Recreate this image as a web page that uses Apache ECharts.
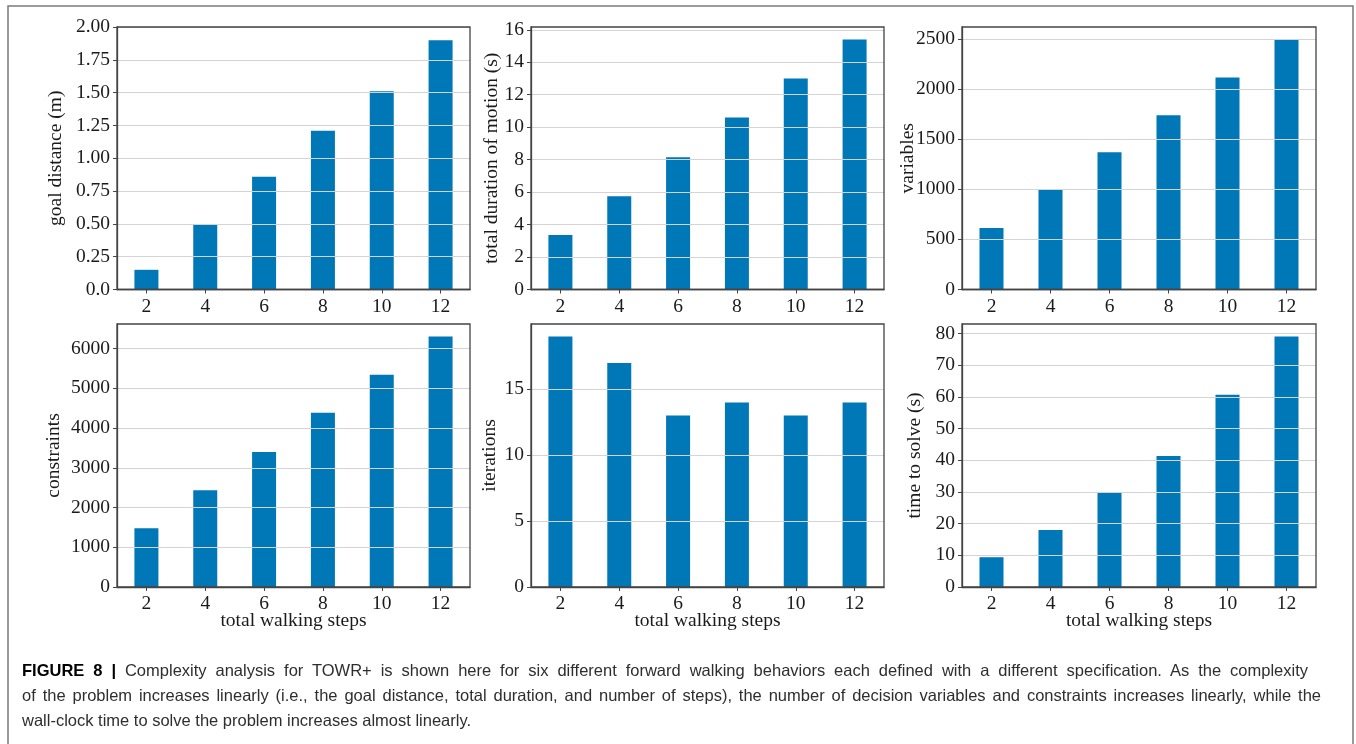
<!DOCTYPE html>
<html>
<head>
<meta charset="utf-8">
<title>Complexity analysis for TOWR+</title>
<script src="https://cdn.jsdelivr.net/npm/echarts@6/dist/echarts.min.js"></script>
<style>
  html, body { margin: 0; padding: 0; background: #ffffff; }
  #wrap { position: relative; width: 1356px; height: 744px; overflow: hidden; }
  #chart { position: absolute; left: 0; top: 0; width: 1356px; height: 744px; }
  #caption {
    position: absolute; left: 22px; top: 658px;
    font-family: "Liberation Sans", Arial, sans-serif; font-size: 16.5px;
    line-height: 25px; color: #2e2e2e;
  }
  #caption .line { white-space: nowrap; }
  #caption .just { white-space: normal; text-align: justify; text-align-last: justify; }
  #caption b { color: #000000; }
</style>
</head>
<body>
<div id="wrap">
  <div id="chart"></div>
  <div id="caption"></div>
</div>
<script>
// Walking behaviours: number of steps on the x axis of every panel
const steps = ['2', '4', '6', '8', '10', '12'];

// Per-behaviour measurements
const goalDistance   = [0.15, 0.5, 0.86, 1.21, 1.51, 1.9];
const totalDuration  = [3.35, 5.75, 8.15, 10.6, 13.0, 15.4];
const variables      = [613, 991, 1369, 1737, 2115, 2493];
const constraints    = [1476, 2436, 3397, 4382, 5342, 6303];
const iterations     = [19, 17, 13, 14, 13, 14];
const timeToSolve    = [9.4, 18, 29.9, 41.4, 60.7, 79.1];

// Tick labels of the goal-distance axis (first tick printed as "0.0")
const goalTickLabels = ['0.0', '0.25', '0.50', '0.75', '1.00', '1.25', '1.50', '1.75', '2.00'];

const captionHead = 'FIGURE 8 |';
const captionLines = [
  'Complexity analysis for TOWR+ is shown here for six different forward walking behaviors each defined with a different specification. As the complexity',
  'of the problem increases linearly (i.e., the goal distance, total duration, and number of steps), the number of decision variables and constraints increases linearly, while the',
  'wall-clock time to solve the problem increases almost linearly.'
];

const SERIF = '"Liberation Serif", "DejaVu Serif", serif';
const FS = 19.5;
const BAR = '#0077b6';
const INK = '#1a1a1a';
const FRAME = '#444444';

// Panel layout (pixels) and axis settings
const panels = [
  { values: goalDistance,  name: 'goal distance (m)',            max: 2.0,  interval: 0.25, nameGap: 51, box: [117, 27, 353, 262.5], ticks: goalTickLabels },
  { values: totalDuration, name: 'total duration of motion (s)', max: null, interval: 2,    nameGap: 29, box: [531, 27, 353, 262.5] },
  { values: variables,     name: 'variables',                    max: null, interval: 500,  nameGap: 44, box: [962, 27, 354, 262.5] },
  { values: constraints,   name: 'constraints',                  max: null, interval: 1000, nameGap: 53, box: [117, 324, 353, 263], xName: 'total walking steps' },
  { values: iterations,    name: 'iterations',                   max: null, interval: 5,    nameGap: 31, box: [531, 324, 353, 263], xName: 'total walking steps' },
  { values: timeToSolve,   name: 'time to solve (s)',            max: null, interval: 10,   nameGap: 37, box: [962, 324, 354, 263], xName: 'total walking steps' }
];

const grids = [], xAxes = [], yAxes = [], series = [], frames = [];

panels.forEach((p, i) => {
  const [left, top, width, height] = p.box;
  grids.push({ left, top, width, height, containLabel: false, outerBoundsMode: 'none' });

  xAxes.push({
    gridIndex: i,
    type: 'category',
    data: steps,
    z: 4,
    axisLine: { show: true, lineStyle: { color: FRAME, width: 1.3 } },
    axisTick: { show: true, alignWithLabel: true, length: 4, lineStyle: { color: FRAME, width: 1 } },
    axisLabel: { margin: 7, fontFamily: SERIF, fontSize: FS, color: INK },
    splitLine: { show: false },
    name: p.xName || '',
    nameLocation: 'middle',
    nameGap: 24,
    nameMoveOverlap: false,
    nameTextStyle: { fontFamily: SERIF, fontSize: FS, color: INK }
  });

  // matplotlib-style 5% headroom above the tallest bar
  const yMax = p.max !== null ? p.max : Math.max(...p.values) * 1.05;
  const tickValues = [];
  for (let k = 0; k * p.interval <= yMax + 1e-9; k++) tickValues.push(+(k * p.interval).toFixed(6));

  yAxes.push({
    gridIndex: i,
    type: 'value',
    min: 0,
    max: yMax,
    interval: p.interval,
    z: 3,
    axisLine: { show: true, lineStyle: { color: FRAME, width: 1.3 } },
    axisTick: { show: true, length: 4, customValues: tickValues, lineStyle: { color: FRAME, width: 1 } },
    splitLine: { show: true, lineStyle: { color: '#d4d4d4', width: 1 } },
    axisLabel: {
      margin: 7, fontFamily: SERIF, fontSize: FS, color: INK,
      customValues: tickValues,
      formatter: p.ticks ? (v) => p.ticks[Math.round(v / p.interval)] : (v) => String(v)
    },
    name: p.name,
    nameLocation: 'middle',
    nameGap: p.nameGap,
    nameMoveOverlap: false,
    nameTextStyle: { fontFamily: SERIF, fontSize: FS, color: INK }
  });

  series.push({
    type: 'bar',
    xAxisIndex: i,
    yAxisIndex: i,
    data: p.values,
    barWidth: 24,
    itemStyle: { color: BAR },
    z: 2,
    silent: true
  });

  // axes frame drawn above bars and gridlines
  frames.push({
    type: 'rect',
    z: 100,
    silent: true,
    shape: { x: left, y: top, width, height },
    style: { fill: null, stroke: FRAME, lineWidth: 1.3 }
  });
});

// Outer figure border
const graphics = frames.concat([{
  type: 'rect',
  z: 100,
  silent: true,
  shape: { x: 8, y: 6, width: 1345, height: 760 },
  style: { fill: null, stroke: '#7a7a7a', lineWidth: 1.5 }
}]);

const chart = echarts.init(document.getElementById('chart'), null, { renderer: 'canvas' });
chart.setOption({
  backgroundColor: '#ffffff',
  animation: false,
  grid: grids,
  xAxis: xAxes,
  yAxis: yAxes,
  series: series,
  graphic: graphics
});

// Caption below the panels: first two lines run to the full text width
const cap = document.getElementById('caption');
const lineWidths = [1286, 1299, null];
captionLines.forEach((txt, i) => {
  const d = document.createElement('div');
  d.className = lineWidths[i] ? 'line just' : 'line';
  if (lineWidths[i]) d.style.width = lineWidths[i] + 'px';
  if (i === 0) {
    const b = document.createElement('b');
    b.textContent = captionHead;
    d.appendChild(b);
    d.appendChild(document.createTextNode(' ' + txt));
  } else {
    d.textContent = txt;
  }
  cap.appendChild(d);
});
</script>
</body>
</html>
